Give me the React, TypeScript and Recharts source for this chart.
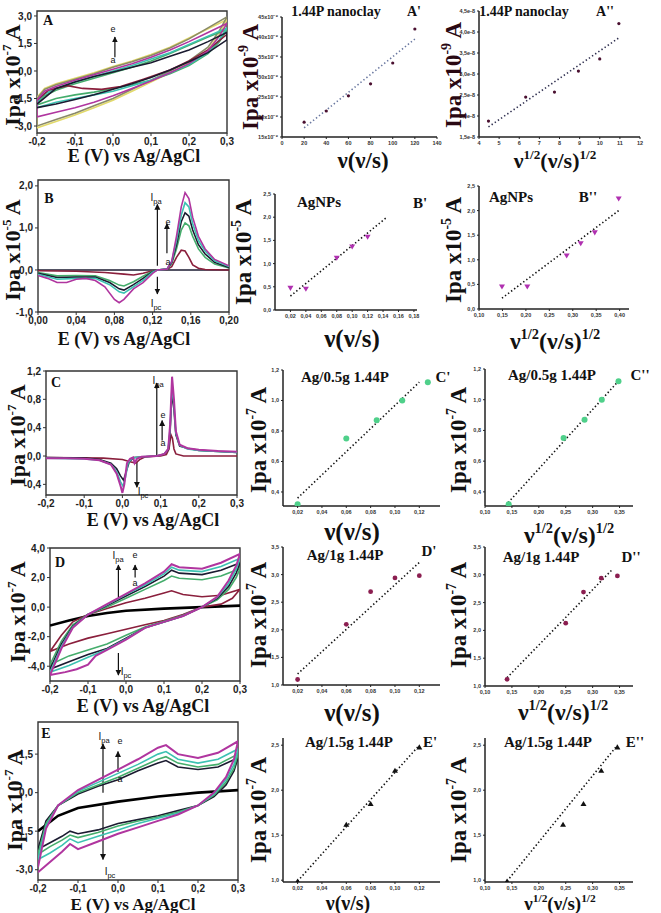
import React from 'react';
import { ScatterChart, Scatter, XAxis, YAxis, ReferenceArea, ReferenceLine } from 'recharts';

type P = [number, number];

// ---------- CV A : 1.44P nanoclay
const A_GRAY: P[] = [[-0.2,-1.5],[-0.18,-1.0],[-0.15,-0.75],[-0.1,-0.45],[-0.05,-0.15],[0,0.2],[0.05,0.5],[0.1,0.85],[0.15,1.25],[0.2,1.75],[0.25,2.35],[0.3,2.95],[0.28,2.2],[0.25,1.3],[0.2,0.55],[0.15,0.0],[0.1,-0.5],[0.05,-1.0],[0,-1.5],[-0.05,-1.9],[-0.1,-2.3],[-0.15,-2.65],[-0.2,-3.0],[-0.2,-1.5]];
const A_YELLOW: P[] = [[-0.2,-1.45],[-0.18,-0.95],[-0.15,-0.7],[-0.1,-0.4],[-0.05,-0.1],[0,0.25],[0.05,0.55],[0.1,0.9],[0.15,1.3],[0.2,1.8],[0.25,2.3],[0.3,2.8],[0.28,2.0],[0.25,1.15],[0.2,0.45],[0.15,-0.1],[0.1,-0.6],[0.05,-1.1],[0,-1.6],[-0.05,-2.0],[-0.1,-2.4],[-0.15,-2.75],[-0.2,-3.1],[-0.2,-1.45]];
const A_MAGENTA: P[] = [[-0.2,-1.6],[-0.18,-1.1],[-0.15,-0.85],[-0.1,-0.5],[-0.05,-0.2],[0,0.1],[0.05,0.4],[0.1,0.75],[0.15,1.15],[0.2,1.6],[0.25,2.1],[0.3,2.6],[0.28,1.9],[0.25,1.1],[0.2,0.4],[0.15,-0.1],[0.1,-0.55],[0.05,-0.95],[0,-1.35],[-0.05,-1.7],[-0.1,-2.0],[-0.15,-2.25],[-0.2,-2.5],[-0.2,-1.6]];
const A_TEAL: P[] = [[-0.2,-1.7],[-0.18,-1.25],[-0.15,-0.95],[-0.1,-0.6],[-0.05,-0.3],[0,0.0],[0.05,0.3],[0.1,0.65],[0.15,1.0],[0.2,1.45],[0.25,1.9],[0.3,2.35],[0.28,1.7],[0.25,1.0],[0.2,0.35],[0.15,-0.1],[0.1,-0.5],[0.05,-0.8],[0,-1.1],[-0.05,-1.3],[-0.1,-1.5],[-0.15,-1.7],[-0.2,-2.0],[-0.2,-1.7]];
const A_GREEN: P[] = [[-0.2,-1.75],[-0.18,-1.35],[-0.15,-1.05],[-0.1,-0.7],[-0.05,-0.4],[0,-0.1],[0.05,0.2],[0.1,0.55],[0.15,0.95],[0.2,1.4],[0.25,1.85],[0.3,2.25],[0.28,1.6],[0.25,0.95],[0.2,0.3],[0.15,-0.15],[0.1,-0.5],[0.05,-0.75],[0,-0.95],[-0.05,-1.15],[-0.1,-1.3],[-0.15,-1.5],[-0.2,-1.85]];
const A_MAROON: P[] = [[-0.2,-1.6],[-0.17,-1.05],[-0.12,-0.8],[-0.08,-0.95],[-0.03,-1.0],[0.02,-0.85],[0.08,-0.45],[0.15,0.05],[0.2,0.55],[0.25,1.15],[0.3,2.0]];
const A_BLACK: P[] = [[-0.2,-2.0],[-0.15,-1.8],[-0.1,-1.55],[-0.05,-1.3],[0,-1.0],[0.05,-0.7],[0.1,-0.35],[0.15,0.05],[0.2,0.5],[0.25,1.0],[0.3,1.7],[0.3,2.1],[0.25,1.6],[0.2,1.15],[0.15,0.8],[0.1,0.45],[0.05,0.2],[0,-0.05],[-0.05,-0.3],[-0.1,-0.6],[-0.15,-0.95],[-0.2,-1.8]];

// ---------- CV B : AgNPs
const B_MAGENTA: P[] = [[0,-0.13],[0.01,-0.2],[0.02,-0.3],[0.03,-0.3],[0.04,-0.22],[0.05,-0.2],[0.06,-0.25],[0.07,-0.4],[0.08,-0.7],[0.085,-0.78],[0.09,-0.7],[0.1,-0.45],[0.11,-0.3],[0.12,-0.08],[0.125,0],[0.135,0.02],[0.14,0.2],[0.145,0.8],[0.15,1.5],[0.154,1.84],[0.158,1.7],[0.162,1.25],[0.168,0.8],[0.175,0.5],[0.185,0.25],[0.2,0.1]];
const B_TEAL: P[] = [[0,-0.1],[0.02,-0.22],[0.04,-0.2],[0.06,-0.2],[0.075,-0.35],[0.085,-0.52],[0.09,-0.55],[0.1,-0.4],[0.11,-0.25],[0.12,-0.05],[0.125,0],[0.135,0.02],[0.14,0.2],[0.145,0.7],[0.15,1.3],[0.154,1.6],[0.158,1.5],[0.162,1.1],[0.168,0.7],[0.175,0.45],[0.185,0.22],[0.2,0.08]];
const B_BLACK: P[] = [[0,-0.08],[0.02,-0.18],[0.04,-0.17],[0.06,-0.17],[0.075,-0.3],[0.085,-0.45],[0.09,-0.48],[0.1,-0.35],[0.11,-0.2],[0.12,-0.04],[0.125,0],[0.135,0.02],[0.14,0.18],[0.145,0.6],[0.15,1.15],[0.154,1.36],[0.158,1.28],[0.162,0.95],[0.168,0.6],[0.175,0.38],[0.185,0.18],[0.2,0.06]];
const B_GREEN: P[] = [[0,-0.06],[0.02,-0.14],[0.04,-0.13],[0.06,-0.14],[0.075,-0.25],[0.085,-0.36],[0.09,-0.38],[0.1,-0.28],[0.11,-0.15],[0.12,-0.03],[0.125,0],[0.135,0.02],[0.14,0.15],[0.145,0.5],[0.15,0.95],[0.154,1.12],[0.158,1.05],[0.162,0.8],[0.168,0.5],[0.175,0.3],[0.185,0.14],[0.2,0.05]];
const B_MAROON: P[] = [[0,-0.02],[0.04,-0.03],[0.07,-0.06],[0.09,-0.1],[0.1,-0.12],[0.11,-0.08],[0.12,-0.02],[0.125,0],[0.135,0.01],[0.14,0.08],[0.145,0.3],[0.15,0.47],[0.154,0.45],[0.158,0.3],[0.162,0.12],[0.168,0.04],[0.175,0.01],[0.2,0]];
const B_BASE: P[] = [[0,0],[0.2,0]];

// ---------- CV C : Ag/0.5g 1.44P
const C_MAGENTA: P[] = [[-0.2,-0.03],[-0.15,-0.03],[-0.1,-0.04],[-0.06,-0.06],[-0.03,-0.12],[-0.015,-0.25],[-0.005,-0.42],[0,-0.52],[0.005,-0.4],[0.012,-0.1],[0.02,-0.04],[0.028,-0.02],[0.032,-0.1],[0.038,-0.04],[0.05,-0.01],[0.09,0],[0.11,0.03],[0.12,0.1],[0.125,0.45],[0.13,1.12],[0.135,0.8],[0.14,0.35],[0.15,0.16],[0.17,0.11],[0.2,0.09],[0.25,0.07],[0.3,0.06]];
const C_TEAL: P[] = [[-0.2,-0.03],[-0.1,-0.04],[-0.06,-0.06],[-0.03,-0.12],[-0.015,-0.22],[-0.005,-0.36],[0.002,-0.43],[0.008,-0.3],[0.015,-0.1],[0.025,-0.03],[0.05,-0.01],[0.09,0],[0.11,0.03],[0.12,0.1],[0.125,0.4],[0.13,1.0],[0.135,0.72],[0.14,0.32],[0.15,0.15],[0.17,0.1],[0.2,0.08],[0.3,0.05]];
const C_BLACK: P[] = [[-0.2,-0.02],[-0.1,-0.03],[-0.06,-0.05],[-0.03,-0.1],[-0.015,-0.18],[-0.005,-0.28],[0.003,-0.34],[0.01,-0.22],[0.018,-0.08],[0.03,-0.02],[0.09,0],[0.11,0.03],[0.12,0.09],[0.125,0.35],[0.13,0.92],[0.135,0.65],[0.14,0.3],[0.15,0.14],[0.17,0.11],[0.2,0.08],[0.3,0.05]];
const C_MAROON: P[] = [[-0.2,-0.02],[-0.05,-0.03],[0,-0.05],[0.02,-0.08],[0.035,-0.1],[0.045,-0.05],[0.06,-0.01],[0.1,0],[0.115,0.02],[0.122,0.1],[0.127,0.3],[0.131,0.25],[0.135,0.1],[0.14,0.03],[0.16,0],[0.3,0]];

// ---------- CV D : Ag/1g 1.44P
const D_BASE: P[] = [[-0.2,-1.25],[-0.15,-0.9],[-0.1,-0.6],[-0.05,-0.4],[0,-0.25],[0.1,-0.1],[0.2,0],[0.3,0.1]];
const D_MAROON: P[] = [[-0.2,-3.0],[-0.17,-1.9],[-0.14,-1.0],[-0.1,-0.5],[-0.05,-0.1],[0,0.3],[0.05,0.6],[0.1,0.95],[0.12,1.1],[0.15,0.85],[0.2,0.7],[0.25,0.8],[0.3,1.2],[0.28,0.6],[0.25,0.2],[0.2,0],[0.15,-0.5],[0.1,-0.9],[0.05,-1.2],[0,-1.5],[-0.05,-1.8],[-0.1,-2.1],[-0.15,-2.5],[-0.2,-3.0]];
const D_GREEN: P[] = [[-0.2,-3.9],[-0.17,-2.3],[-0.14,-1.2],[-0.1,-0.5],[-0.05,0],[0,0.6],[0.05,1.2],[0.1,1.8],[0.12,2.1],[0.14,1.95],[0.2,1.85],[0.25,2.1],[0.3,2.6],[0.29,2.0],[0.27,1.2],[0.24,0.5],[0.2,0],[0.15,-0.55],[0.1,-0.95],[0.05,-1.35],[0,-1.9],[-0.05,-2.5],[-0.1,-2.9],[-0.15,-3.3],[-0.2,-3.9]];
const D_BLACK: P[] = [[-0.2,-4.2],[-0.17,-2.5],[-0.14,-1.3],[-0.1,-0.5],[-0.05,0.1],[0,0.75],[0.05,1.4],[0.1,2.1],[0.12,2.5],[0.14,2.3],[0.2,2.2],[0.25,2.5],[0.3,3.0],[0.29,2.3],[0.27,1.4],[0.24,0.6],[0.2,0],[0.15,-0.6],[0.1,-1.0],[0.05,-1.4],[0,-2.1],[-0.05,-2.8],[-0.1,-3.2],[-0.15,-3.7],[-0.2,-4.2]];
const D_TEAL: P[] = [[-0.2,-4.4],[-0.17,-2.65],[-0.14,-1.35],[-0.1,-0.5],[-0.05,0.15],[0,0.85],[0.05,1.5],[0.1,2.25],[0.12,2.7],[0.14,2.5],[0.2,2.4],[0.25,2.75],[0.3,3.3],[0.29,2.55],[0.27,1.6],[0.24,0.65],[0.2,0],[0.15,-0.6],[0.1,-1.0],[0.05,-1.4],[0,-2.15],[-0.05,-2.85],[-0.1,-3.4],[-0.15,-3.95],[-0.2,-4.4]];
const D_MAGENTA: P[] = [[-0.2,-4.6],[-0.17,-2.8],[-0.14,-1.4],[-0.1,-0.5],[-0.05,0.2],[0,0.9],[0.05,1.6],[0.1,2.4],[0.12,2.9],[0.14,2.7],[0.2,2.6],[0.25,3.0],[0.3,3.6],[0.29,2.8],[0.27,1.8],[0.24,0.7],[0.2,0],[0.15,-0.6],[0.1,-1.0],[0.05,-1.4],[0,-2.2],[-0.05,-2.9],[-0.08,-3.3],[-0.1,-3.9],[-0.13,-4.2],[-0.16,-4.4],[-0.2,-4.6]];

// ---------- CV E : Ag/1.5g 1.44P
const E_BASE: P[] = [[-0.2,-1.5],[-0.15,-0.9],[-0.1,-0.6],[0,-0.35],[0.1,-0.15],[0.2,0],[0.3,0.1]];
const E_BLACK: P[] = [[-0.2,-2.2],[-0.18,-1.1],[-0.15,-0.5],[-0.1,-0.05],[-0.05,0.25],[0,0.5],[0.05,0.85],[0.1,1.15],[0.12,1.25],[0.15,1.0],[0.2,0.9],[0.25,1.0],[0.3,1.35],[0.29,0.85],[0.27,0.3],[0.24,-0.15],[0.2,-0.5],[0.15,-0.7],[0.1,-0.9],[0.05,-1.05],[0,-1.2],[-0.05,-1.45],[-0.1,-1.6],[-0.12,-1.5],[-0.14,-1.7],[-0.17,-1.95],[-0.2,-2.2]];
const E_GREEN: P[] = [[-0.2,-2.4],[-0.18,-1.2],[-0.15,-0.5],[-0.1,0],[-0.05,0.3],[0,0.6],[0.05,0.95],[0.1,1.3],[0.12,1.4],[0.15,1.15],[0.2,1.0],[0.25,1.1],[0.3,1.5],[0.29,0.95],[0.27,0.4],[0.24,-0.1],[0.2,-0.5],[0.15,-0.75],[0.1,-0.95],[0.05,-1.1],[0,-1.3],[-0.05,-1.55],[-0.1,-1.75],[-0.12,-1.65],[-0.14,-1.85],[-0.17,-2.1],[-0.2,-2.4]];
const E_TEAL: P[] = [[-0.2,-2.6],[-0.18,-1.3],[-0.15,-0.5],[-0.1,0.05],[-0.05,0.4],[0,0.75],[0.05,1.1],[0.1,1.5],[0.12,1.6],[0.15,1.3],[0.2,1.15],[0.25,1.3],[0.3,1.7],[0.29,1.1],[0.27,0.5],[0.24,-0.05],[0.2,-0.5],[0.15,-0.8],[0.1,-1.0],[0.05,-1.2],[0,-1.45],[-0.05,-1.7],[-0.1,-1.95],[-0.12,-1.8],[-0.14,-2.05],[-0.17,-2.35],[-0.2,-2.6]];
const E_MAGENTA: P[] = [[-0.2,-2.9],[-0.18,-1.4],[-0.15,-0.5],[-0.1,0.1],[-0.05,0.5],[0,0.9],[0.05,1.3],[0.1,1.75],[0.12,1.85],[0.15,1.5],[0.2,1.35],[0.25,1.55],[0.3,2.0],[0.29,1.3],[0.27,0.6],[0.24,0],[0.2,-0.5],[0.15,-0.85],[0.1,-1.1],[0.05,-1.35],[0,-1.6],[-0.05,-1.9],[-0.1,-2.2],[-0.12,-2.0],[-0.14,-2.3],[-0.17,-2.7],[-0.2,-3.1]];

// ---------- Ipa vs scan rate (primed) and vs sqrt(scan rate) (double primed)
const A_V = [20, 40, 60, 80, 100, 120];
const A_SQRT_V = [4.47, 6.32, 7.75, 8.94, 10.0, 10.95];
const A_IPA1 = [18.7, 21.5, 25.3, 28.3, 33.5, 42.0];
const A_IPA2 = [1.88, 2.45, 2.57, 3.07, 3.36, 4.2];
const A_FIT1: P[] = [[20, 17.3], [120, 39.5]];
const A_FIT2: P[] = [[4.47, 1.74], [10.95, 3.86]];

const B_V = [0.02, 0.04, 0.08, 0.1, 0.12];
const B_IPA1 = [0.47, 0.45, 1.12, 1.36, 1.57];
const B_SQRT_V = [0.149, 0.203, 0.287, 0.317, 0.347, 0.398];
const B_IPA2 = [0.45, 0.45, 1.08, 1.33, 1.55, 2.24];
const B_FIT1: P[] = [[0.02, 0.3], [0.145, 2.0]];
const B_FIT2: P[] = [[0.149, 0.22], [0.398, 2.0]];

const C_V = [0.02, 0.06, 0.085, 0.106, 0.127];
const C_SQRT_V = [0.144, 0.246, 0.285, 0.317, 0.348];
const C_IPA = [0.32, 0.75, 0.87, 1.0, 1.12];
const C_FIT1: P[] = [[0.02, 0.36], [0.12, 1.12]];
const C_FIT2: P[] = [[0.143, 0.33], [0.345, 1.11]];

const D_V = [0.02, 0.06, 0.08, 0.1, 0.12];
const D_SQRT_V = [0.141, 0.25, 0.283, 0.316, 0.346];
const D_IPA1 = [1.1, 2.1, 2.69, 2.94, 2.98];
const D_IPA2 = [1.12, 2.13, 2.69, 2.94, 2.98];
const D_FIT1: P[] = [[0.02, 1.2], [0.12, 3.22]];
const D_FIT2: P[] = [[0.141, 1.15], [0.335, 3.08]];

const E_V = [0.02, 0.06, 0.08, 0.1, 0.12];
const E_SQRT_V = [0.141, 0.245, 0.283, 0.316, 0.346];
const E_IPA = [0.99, 1.62, 1.85, 2.22, 2.48];
const E_FIT1: P[] = [[0.02, 0.99], [0.12, 2.5]];
const E_FIT2: P[] = [[0.141, 0.99], [0.346, 2.5]];

const SCAN_TICKS = [0.02, 0.04, 0.06, 0.08, 0.1, 0.12];
const SQRT_TICKS = [0.1, 0.15, 0.2, 0.25, 0.3, 0.35];
const CV_X_TICKS = [-0.2, -0.1, 0, 0.1, 0.2, 0.3];

const MAG = '#b0359f', TEAL = '#3cc2b2', GREEN = '#45ad6c', NAVY = '#1b1b30', MAROON = '#8a1f3c', YELLOW = '#e2da6a', GRAY = '#8a8a68';
const SERIF = '"Liberation Serif", "DejaVu Serif", serif';
const SANS = '"Liberation Sans", Arial, sans-serif';

const toXY = (pts: P[]) => pts.map(([x, y]) => ({ x, y }));
const zip = (xs: number[], ys: number[]) => xs.map((x, i) => ({ x, y: ys[i] }));
const comma = (d: number) => (v: number) => v.toFixed(d).replace('.', ',');
const noDot = () => <g />;
const dot = (c: string, r: number) => (p: any) => <circle cx={p.cx} cy={p.cy} r={r} fill={c} />;
const triDown = (c: string, s: number) => (p: any) => (
  <path d={`M${p.cx - s},${p.cy - s * 0.8}L${p.cx + s},${p.cy - s * 0.8}L${p.cx},${p.cy + s * 0.9}Z`} fill={c} />
);
const triUp = (c: string, s: number) => (p: any) => (
  <path d={`M${p.cx - s},${p.cy + s * 0.8}L${p.cx + s},${p.cy + s * 0.8}L${p.cx},${p.cy - s * 0.9}Z`} fill={c} />
);
const arrowShape = (p: any) => (
  <line x1={p.x1} y1={p.y1} x2={p.x2} y2={p.y2} stroke="#111" strokeWidth={1.2} markerEnd="url(#ah)" />
);

type Curve = { pts: P[]; color: string; w?: number };
type Box = [number, number, number, number];

function CvPanel({ box, xDomain, yDomain, xTicks, yTicks, xFmt, yFmt, curves, arrows }: {
  box: Box; xDomain: [number, number]; yDomain: [number, number]; xTicks: number[]; yTicks: number[];
  xFmt: (v: number) => string; yFmt: (v: number) => string; curves: Curve[]; arrows: [P, P][];
}) {
  const YW = 30, XH = 16, MT = 6, MR = 14;
  const w = box[2] - box[0] + YW + MR;
  const h = box[3] - box[1] + MT + XH;
  const tick = { fontSize: 10, fill: '#222', fontFamily: SANS, fontWeight: 700 };
  return (
    <div style={{ position: 'absolute', left: box[0] - YW, top: box[1] - MT }}>
      <ScatterChart width={w} height={h} margin={{ top: MT, right: MR, bottom: 0, left: 0 }}>
        <XAxis type="number" dataKey="x" domain={xDomain} ticks={xTicks} allowDataOverflow height={XH}
          tickFormatter={xFmt} tick={tick} tickSize={3} axisLine={false} stroke="#333" interval={0} />
        <YAxis type="number" dataKey="y" domain={yDomain} ticks={yTicks} allowDataOverflow width={YW}
          tickFormatter={yFmt} tick={tick} tickSize={3} axisLine={false} stroke="#333" interval={0} />
        <ReferenceArea x1={xDomain[0]} x2={xDomain[1]} y1={yDomain[0]} y2={yDomain[1]}
          fill="none" stroke="#333" strokeWidth={1.4} ifOverflow="visible" />
        {curves.map((c, i) => (
          <Scatter key={i} data={toXY(c.pts)} line={{ stroke: c.color, strokeWidth: c.w ?? 1.6 }}
            shape={noDot} isAnimationActive={false} />
        ))}
        {arrows.map((a, i) => (
          <ReferenceLine key={'ar' + i} segment={[{ x: a[0][0], y: a[0][1] }, { x: a[1][0], y: a[1][1] }]}
            shape={arrowShape} ifOverflow="visible" />
        ))}
      </ScatterChart>
    </div>
  );
}

function FitPanel({ box, xDomain, yDomain, xTicks, yTicks, xFmt, yFmt, pts, fit, shape, fitColor = '#111' }: {
  box: Box; xDomain: [number, number]; yDomain: [number, number]; xTicks: number[]; yTicks: number[];
  xFmt: (v: number) => string; yFmt: (v: number) => string; pts: { x: number; y: number }[]; fit: P[];
  shape: any; fitColor?: string;
}) {
  const YW = 26, XH = 12, MT = 6, MR = 8;
  const w = box[2] - box[0] + YW + MR;
  const h = box[3] - box[1] + MT + XH;
  const tick = { fontSize: 5.5, fill: '#333', fontFamily: SANS, fontWeight: 700 };
  const axis = { stroke: '#222', strokeWidth: 1.5 };
  return (
    <div style={{ position: 'absolute', left: box[0] - YW, top: box[1] - MT }}>
      <ScatterChart width={w} height={h} margin={{ top: MT, right: MR, bottom: 0, left: 0 }}>
        <XAxis type="number" dataKey="x" domain={xDomain} ticks={xTicks} allowDataOverflow height={XH}
          tickFormatter={xFmt} tick={tick} tickSize={2} axisLine={axis} stroke="#222" interval={0} />
        <YAxis type="number" dataKey="y" domain={yDomain} ticks={yTicks} allowDataOverflow width={YW}
          tickFormatter={yFmt} tick={tick} tickSize={2} axisLine={axis} stroke="#222" interval={0} />
        <Scatter data={toXY(fit)} line={{ stroke: fitColor, strokeWidth: 1.6, strokeDasharray: '1.4 2.4' }}
          shape={noDot} isAnimationActive={false} />
        <Scatter data={pts} shape={shape} isAnimationActive={false} />
      </ScatterChart>
    </div>
  );
}

function Txt({ x, y, size, children, rot, font = SERIF, bold = true, color = '#111' }: any) {
  return (
    <div style={{
      position: 'absolute', left: x, top: y, transform: `translate(-50%,-50%)${rot ? ' rotate(-90deg)' : ''}`,
      fontSize: size, fontFamily: font, fontWeight: bold ? 700 : 400, color, whiteSpace: 'nowrap', lineHeight: 1,
    }}>{children}</div>
  );
}

const Sup = ({ children }: any) => <span style={{ fontSize: '0.6em', position: 'relative', top: '-0.7em' }}>{children}</span>;
const Sub = ({ children }: any) => <span style={{ fontSize: '0.75em', position: 'relative', top: '0.35em' }}>{children}</span>;
const IpaLabel = ({ exp }: { exp: string }) => <>Ipa x10<Sup>{exp}</Sup> A</>;
const SqrtLabel = () => <>ν<Sup>1/2</Sup>(ν/s)<Sup>1/2</Sup></>;
const Ipa = () => <>I<Sub>pa</Sub></>;
const Ipc = () => <>I<Sub>pc</Sub></>;

export default function App() {
  const small = { font: SANS, bold: false, size: 10 };
  return (
    <div style={{ position: 'relative', width: 661, height: 913, background: '#fff', overflow: 'hidden' }}>
      <style>{'body{margin:0}'}</style>
      <svg width={0} height={0} style={{ position: 'absolute' }}>
        <defs>
          <marker id="ah" viewBox="0 0 10 10" refX="9" refY="5" markerWidth="5" markerHeight="6" orient="auto">
            <path d="M0,0L10,5L0,10Z" fill="#111" />
          </marker>
        </defs>
      </svg>

      {/* Row A */}
      <CvPanel box={[37, 11, 227, 133]} xDomain={[-0.2, 0.3]} yDomain={[-3.38, 3.27]} xTicks={CV_X_TICKS}
        yTicks={[-3, -1.5, 0, 1.5, 3]} xFmt={comma(1)} yFmt={comma(1)}
        curves={[{ pts: A_YELLOW, color: YELLOW }, { pts: A_GRAY, color: GRAY }, { pts: A_GREEN, color: GREEN },
          { pts: A_TEAL, color: TEAL }, { pts: A_MAROON, color: MAROON }, { pts: A_MAGENTA, color: MAG }, { pts: A_BLACK, color: NAVY }]}
        arrows={[[[0.005, 0.75], [0.005, 1.85]]]} />
      <FitPanel box={[282, 17, 437, 137]} xDomain={[0, 140]} yDomain={[15, 45]} xTicks={[0, 20, 40, 60, 80, 100, 120, 140]}
        yTicks={[15, 20, 25, 30, 35, 40, 45]} xFmt={(v) => String(v)} yFmt={(v) => `${v}x10⁻⁹`}
        pts={zip(A_V, A_IPA1)} fit={A_FIT1} shape={dot('#4a1030', 1.6)} fitColor="#6a78a0" />
      <FitPanel box={[479, 11, 640, 137]} xDomain={[4, 12]} yDomain={[1.5, 4.5]} xTicks={[4, 5, 6, 7, 8, 9, 10, 11, 12]}
        yTicks={[1.5, 2, 2.5, 3, 3.5, 4, 4.5]} xFmt={(v) => String(v)} yFmt={(v) => comma(1)(v) + 'e-8'}
        pts={zip(A_SQRT_V, A_IPA2)} fit={A_FIT2} shape={dot('#4a1030', 1.6)} fitColor="#303050" />

      {/* Row B */}
      <CvPanel box={[38, 180, 229, 312]} xDomain={[0, 0.2]} yDomain={[-1, 2.14]} xTicks={[0, 0.04, 0.08, 0.12, 0.16, 0.2]}
        yTicks={[-1, 0, 1, 2]} xFmt={comma(2)} yFmt={comma(1)}
        curves={[{ pts: B_BASE, color: NAVY, w: 1.4 }, { pts: B_MAROON, color: MAROON }, { pts: B_GREEN, color: GREEN },
          { pts: B_BLACK, color: NAVY }, { pts: B_TEAL, color: TEAL }, { pts: B_MAGENTA, color: MAG }]}
        arrows={[[[0.125, 0.1], [0.125, 1.56]], [[0.135, 0.4], [0.135, 1.1]], [[0.125, -0.16], [0.125, -0.57]]]} />
      <FitPanel box={[275, 194, 417, 310]} xDomain={[0, 0.184]} yDomain={[0, 2.5]}
        xTicks={[0.02, 0.04, 0.06, 0.08, 0.1, 0.12, 0.14, 0.16, 0.18]} yTicks={[0, 0.5, 1, 1.5, 2, 2.5]}
        xFmt={comma(2)} yFmt={comma(1)} pts={zip(B_V, B_IPA1)} fit={B_FIT1} shape={triDown('#b030b0', 3)} />
      <FitPanel box={[479, 186, 629, 309]} xDomain={[0.1, 0.42]} yDomain={[0, 2.5]}
        xTicks={[0.1, 0.15, 0.2, 0.25, 0.3, 0.35, 0.4]} yTicks={[0, 0.5, 1, 1.5, 2, 2.5]}
        xFmt={comma(2)} yFmt={comma(1)} pts={zip(B_SQRT_V, B_IPA2)} fit={B_FIT2} shape={triDown('#b030b0', 3)} />

      {/* Row C */}
      <CvPanel box={[46, 371, 237, 495]} xDomain={[-0.2, 0.3]} yDomain={[-0.55, 1.2]} xTicks={CV_X_TICKS}
        yTicks={[-0.4, 0, 0.4, 0.8, 1.2]} xFmt={comma(1)} yFmt={comma(1)}
        curves={[{ pts: C_MAROON, color: MAROON }, { pts: C_BLACK, color: NAVY }, { pts: C_TEAL, color: TEAL },
          { pts: C_MAGENTA, color: MAG, w: 2 }]}
        arrows={[[[0.09, 0.01], [0.09, 1.03]], [[0.104, 0.22], [0.104, 0.5]], [[0.038, -0.08], [0.038, -0.44]]]} />
      <FitPanel box={[283, 370, 440, 506]} xDomain={[0.008, 0.137]} yDomain={[0.308, 1.2]} xTicks={SCAN_TICKS}
        yTicks={[0.4, 0.6, 0.8, 1, 1.2]} xFmt={comma(2)} yFmt={comma(1)}
        pts={zip(C_V, C_IPA)} fit={C_FIT1} shape={dot('#4fd08a', 3)} />
      <FitPanel box={[485, 369, 633, 506]} xDomain={[0.1, 0.375]} yDomain={[0.308, 1.2]} xTicks={SQRT_TICKS}
        yTicks={[0.4, 0.6, 0.8, 1, 1.2]} xFmt={comma(2)} yFmt={comma(1)}
        pts={zip(C_SQRT_V, C_IPA)} fit={C_FIT2} shape={dot('#4fd08a', 3)} />

      {/* Row D */}
      <CvPanel box={[50, 548, 240, 681]} xDomain={[-0.2, 0.3]} yDomain={[-5, 4]} xTicks={CV_X_TICKS}
        yTicks={[-4, -2, 0, 2, 4]} xFmt={comma(1)} yFmt={comma(1)}
        curves={[{ pts: D_BASE, color: '#000', w: 2.6 }, { pts: D_MAROON, color: MAROON }, { pts: D_GREEN, color: GREEN },
          { pts: D_BLACK, color: NAVY }, { pts: D_TEAL, color: TEAL }, { pts: D_MAGENTA, color: MAG, w: 2 }]}
        arrows={[[[-0.02, 0.68], [-0.02, 2.85]], [[0.024, 2.0], [0.024, 2.85]], [[-0.02, -3.1], [-0.02, -4.6]]]} />
      <FitPanel box={[283, 547, 440, 685]} xDomain={[0.008, 0.137]} yDomain={[1, 3.5]} xTicks={SCAN_TICKS}
        yTicks={[1, 1.5, 2, 2.5, 3, 3.5]} xFmt={comma(2)} yFmt={comma(1)}
        pts={zip(D_V, D_IPA1)} fit={D_FIT1} shape={dot('#8b1e50', 2.4)} />
      <FitPanel box={[485, 547, 633, 686]} xDomain={[0.1, 0.375]} yDomain={[1, 3.5]} xTicks={SQRT_TICKS}
        yTicks={[1, 1.5, 2, 2.5, 3, 3.5]} xFmt={comma(2)} yFmt={comma(1)}
        pts={zip(D_SQRT_V, D_IPA2)} fit={D_FIT2} shape={dot('#8b1e50', 2.4)} />

      {/* Row E */}
      <CvPanel box={[38, 722, 238, 880]} xDomain={[-0.2, 0.3]} yDomain={[-3.4, 2.75]} xTicks={CV_X_TICKS}
        yTicks={[-3, -1.5, 0, 1.5]} xFmt={comma(1)} yFmt={comma(1)}
        curves={[{ pts: E_BASE, color: '#000', w: 2.6 }, { pts: E_BLACK, color: NAVY }, { pts: E_GREEN, color: GREEN },
          { pts: E_TEAL, color: TEAL }, { pts: E_MAGENTA, color: MAG, w: 2 }]}
        arrows={[[[-0.0375, 0.0], [-0.0375, 1.9]], [[0.0, 0.8], [0.0, 1.6]], [[-0.0375, -0.5], [-0.0375, -2.6]]]} />
      <FitPanel box={[283, 738, 440, 882]} xDomain={[0.008, 0.137]} yDomain={[0.98, 2.58]} xTicks={SCAN_TICKS}
        yTicks={[1, 1.5, 2, 2.5]} xFmt={comma(2)} yFmt={comma(1)}
        pts={zip(E_V, E_IPA)} fit={E_FIT1} shape={triUp('#111', 3)} />
      <FitPanel box={[485, 738, 633, 882]} xDomain={[0.1, 0.375]} yDomain={[0.98, 2.58]} xTicks={SQRT_TICKS}
        yTicks={[1, 1.5, 2, 2.5]} xFmt={comma(2)} yFmt={comma(1)}
        pts={zip(E_SQRT_V, E_IPA)} fit={E_FIT2} shape={triUp('#111', 3)} />

      {/* CV axis labels */}
      <Txt x={13} y={75} size={22} rot><IpaLabel exp="-7" /></Txt>
      <Txt x={13} y={250} size={22} rot><IpaLabel exp="-5" /></Txt>
      <Txt x={18} y={435} size={22} rot><IpaLabel exp="-7" /></Txt>
      <Txt x={18} y={612} size={22} rot><IpaLabel exp="-7" /></Txt>
      <Txt x={15} y={800} size={22} rot><IpaLabel exp="-7" /></Txt>
      <Txt x={134} y={156} size={18}>E (V) vs Ag/AgCl</Txt>
      <Txt x={124} y={339} size={18}>E (V) vs Ag/AgCl</Txt>
      <Txt x={153} y={520} size={18}>E (V) vs Ag/AgCl</Txt>
      <Txt x={143} y={706} size={18}>E (V) vs Ag/AgCl</Txt>
      <Txt x={133} y={904} size={17}>E (V) vs Ag/AgCl</Txt>

      {/* CV panel letters and annotations */}
      <Txt x={48} y={21} size={14}>A</Txt>
      <Txt x={113} y={29} {...small} size={9}>e</Txt>
      <Txt x={113} y={60} {...small} size={9}>a</Txt>
      <Txt x={49} y={199} size={14}>B</Txt>
      <Txt x={156} y={198} {...small}><Ipa /></Txt>
      <Txt x={168} y={222} {...small} size={9}>e</Txt>
      <Txt x={168} y={262} {...small} size={9}>a</Txt>
      <Txt x={156} y={304} {...small}><Ipc /></Txt>
      <Txt x={56} y={383} size={14}>C</Txt>
      <Txt x={158} y={381} {...small}><Ipa /></Txt>
      <Txt x={163} y={415} {...small} size={9}>e</Txt>
      <Txt x={163} y={443} {...small} size={9}>a</Txt>
      <Txt x={143} y={492} {...small}><Ipc /></Txt>
      <Txt x={60} y={563} size={14}>D</Txt>
      <Txt x={118} y={556} {...small}><Ipa /></Txt>
      <Txt x={135} y={555} {...small} size={9}>e</Txt>
      <Txt x={135} y={583} {...small} size={9}>a</Txt>
      <Txt x={126} y={672} {...small}><Ipc /></Txt>
      <Txt x={46} y={734} size={14}>E</Txt>
      <Txt x={104} y={737} {...small}><Ipa /></Txt>
      <Txt x={120} y={741} {...small} size={9}>e</Txt>
      <Txt x={120} y={779} {...small} size={9}>a</Txt>
      <Txt x={110} y={872} {...small}><Ipc /></Txt>

      {/* Fit panel labels */}
      <Txt x={250} y={77} size={23} rot color="#2a0812"><IpaLabel exp="-9" /></Txt>
      <Txt x={453} y={75} size={23} rot color="#2a0812"><IpaLabel exp="-9" /></Txt>
      <Txt x={243} y={252} size={23} rot><IpaLabel exp="-5" /></Txt>
      <Txt x={453} y={250} size={23} rot><IpaLabel exp="-5" /></Txt>
      <Txt x={258} y={440} size={23} rot><IpaLabel exp="-7" /></Txt>
      <Txt x={458} y={440} size={23} rot><IpaLabel exp="-7" /></Txt>
      <Txt x={258} y={615} size={23} rot><IpaLabel exp="-7" /></Txt>
      <Txt x={458} y={615} size={23} rot><IpaLabel exp="-7" /></Txt>
      <Txt x={258} y={810} size={23} rot><IpaLabel exp="-7" /></Txt>
      <Txt x={458} y={810} size={23} rot><IpaLabel exp="-7" /></Txt>

      <Txt x={363} y={160} size={23}>ν(ν/s)</Txt>
      <Txt x={555} y={161} size={22}><SqrtLabel /></Txt>
      <Txt x={352} y={338} size={25}>ν(ν/s)</Txt>
      <Txt x={555} y={341} size={24}><SqrtLabel /></Txt>
      <Txt x={352} y={531} size={25}>ν(ν/s)</Txt>
      <Txt x={569} y={535} size={24}><SqrtLabel /></Txt>
      <Txt x={352} y={712} size={25}>ν(ν/s)</Txt>
      <Txt x={563} y={712} size={24}><SqrtLabel /></Txt>
      <Txt x={348} y={903} size={20}>ν(ν/s)</Txt>
      <Txt x={560} y={903} size={19}><SqrtLabel /></Txt>

      <Txt x={336} y={12} size={14}>1.44P nanoclay</Txt>
      <Txt x={414} y={12} size={14}>A'</Txt>
      <Txt x={524} y={12} size={14}>1.44P nanoclay</Txt>
      <Txt x={605} y={12} size={14}>A''</Txt>
      <Txt x={319} y={202} size={15}>AgNPs</Txt>
      <Txt x={420} y={203} size={15}>B'</Txt>
      <Txt x={511} y={197} size={15}>AgNPs</Txt>
      <Txt x={588} y={197} size={15}>B''</Txt>
      <Txt x={345} y={377} size={15}>Ag/0.5g 1.44P</Txt>
      <Txt x={443} y={377} size={15}>C'</Txt>
      <Txt x={552} y={375} size={15}>Ag/0.5g 1.44P</Txt>
      <Txt x={640} y={375} size={15}>C''</Txt>
      <Txt x={345} y={555} size={15}>Ag/1g 1.44P</Txt>
      <Txt x={429} y={551} size={15}>D'</Txt>
      <Txt x={541} y={557} size={15}>Ag/1g 1.44P</Txt>
      <Txt x={631} y={557} size={15}>D''</Txt>
      <Txt x={349} y={742} size={15}>Ag/1.5g 1.44P</Txt>
      <Txt x={430} y={742} size={15}>E'</Txt>
      <Txt x={548} y={742} size={15}>Ag/1.5g 1.44P</Txt>
      <Txt x={635} y={742} size={15}>E''</Txt>
    </div>
  );
}
